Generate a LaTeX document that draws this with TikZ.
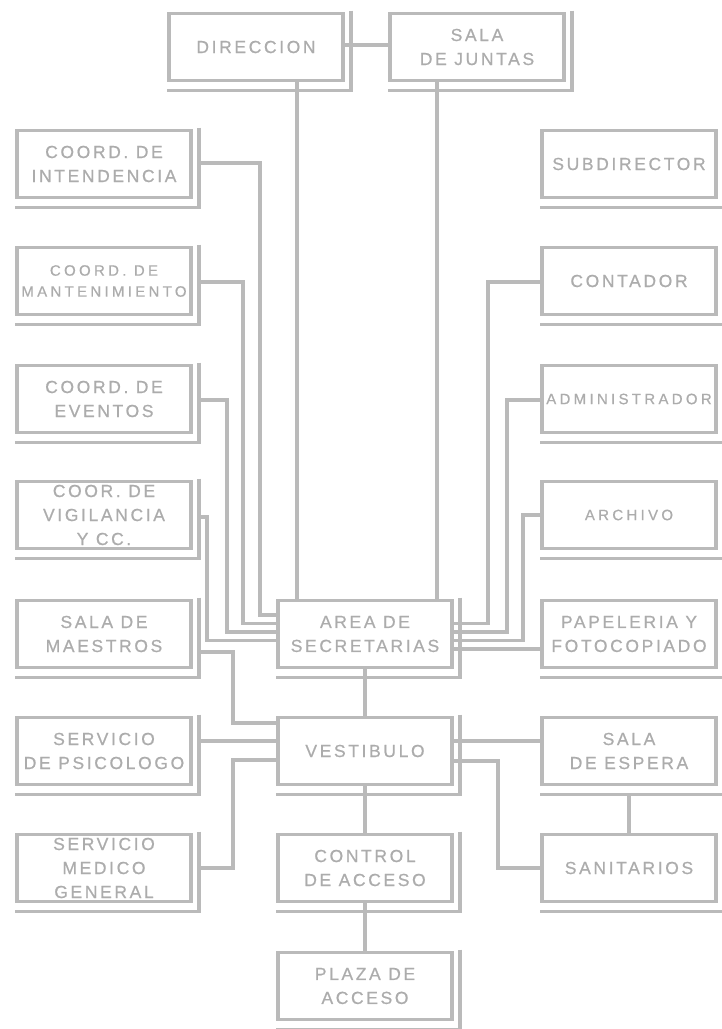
\documentclass[tikz,border=0pt]{standalone}
\usepackage{fontspec}
\newfontfamily\bxfont[LetterSpace=15,FakeBold=0.7]{Liberation Sans}
\newfontfamily\bxsmall[LetterSpace=22,FakeBold=0.7]{Liberation Sans}
\usetikzlibrary{calc}
\definecolor{lg}{RGB}{186,186,186}
\definecolor{tg}{RGB}{172,172,172}
\tikzset{
  room/.style={draw=lg, line width=3.5pt, minimum width=174pt, minimum height=67pt,
    inner sep=0pt, outer sep=0pt, align=center, text=tg,
    font=\bxfont\fontsize{17.5}{24}\selectfont},
  smallroom/.style={room, font=\bxsmall\fontsize{15}{21}\selectfont},
  link/.style={draw=lg, line width=3.2pt},
  shadeline/.style={draw=lg, line width=3.2pt},
}
\newcommand\boxshadow[1]{%
  \draw[shadeline] ($(#1.north east)+(8,-3)$) -- ($(#1.south east)+(8,11.5)$);
  \draw[shadeline] ($(#1.south west)+(-2,10)$) -- ($(#1.south east)+(9.6,10)$);}
\begin{document}
\begin{tikzpicture}[x=1pt,y=-1pt]
\useasboundingbox (0,0) rectangle (721,1029);
% nodes
\node[room] (dir)   at (256,47)  {DIRECCION};
\node[room] (sala)  at (477,47)  {SALA\\DE JUNTAS};
\node[room] (int)   at (104,164) {COORD. DE\\INTENDENCIA};
\node[room] (sub)   at (629,164) {SUBDIRECTOR};
\node[smallroom] (man) at (104,281) {COORD. DE\\MANTENIMIENTO};
\node[room] (cont)  at (629,281) {CONTADOR};
\node[room] (eve)   at (104,399) {COORD. DE\\EVENTOS};
\node[smallroom] (adm) at (629,399) {ADMINISTRADOR};
\node[room] (vig)   at (104,515) {COOR. DE\\VIGILANCIA\\Y CC.};
\node[smallroom] (arch) at (629,515) {ARCHIVO};
\node[room] (mae)   at (104,634) {SALA DE\\MAESTROS};
\node[room] (area)  at (365,634) {AREA DE\\SECRETARIAS};
\node[room] (pap)   at (629,634) {PAPELERIA Y\\FOTOCOPIADO};
\node[room] (psi)   at (104,751) {SERVICIO\\DE PSICOLOGO};
\node[room] (vest)  at (365,751) {VESTIBULO};
\node[room] (esp)   at (629,751) {SALA\\DE ESPERA};
\node[room] (med)   at (104,868) {SERVICIO\\MEDICO\\GENERAL};
\node[room] (ctrl)  at (365,868) {CONTROL\\DE ACCESO};
\node[room] (sani)  at (629,868) {SANITARIOS};
\node[room] (plaza) at (365,986) {PLAZA DE\\ACCESO};
% shadows
\foreach \n in {dir,sala,int,sub,man,cont,eve,adm,vig,arch,mae,area,pap,psi,vest,esp,med,ctrl,sani,plaza}{\boxshadow{\n}}
% connectors
\draw[link] ($(dir.east)+(0,-2)$) -- ($(sala.west)+(0,-2)$);
\draw[link] (dir.south -| 297,0) -- (area.north -| 297,0);
\draw[link] (sala.south -| 437,0) -- (area.north -| 437,0);
\draw[link] ($(int.east)+(8,-1)$) -| (260,615) -- (area.west |- 260,615);
\draw[link] ($(man.east)+(8,1)$) -| (243,623.5) -- (area.west |- 243,623.5);
\draw[link] ($(eve.east)+(8,1)$) -| (227,632) -- (area.west |- 227,632);
\draw[link] ($(vig.east)+(8,2)$) -| (207,640.5) -- (area.west |- 207,640.5);
\draw[link] ($(cont.west)+(0,1)$) -| (488,623.5) -- (area.east |- 488,623.5);
\draw[link] ($(adm.west)+(0,1)$) -| (507,632) -- (area.east |- 507,632);
\draw[link] (arch.west) -| (523,640.5) -- (area.east |- 523,640.5);
\draw[link] ($(pap.west)+(0,15)$) -- (area.east |- 0,649);
\draw[link] (area.south) -- (vest.north);
\draw[link] ($(mae.east)+(8,18)$) -| (233,723) -- (vest.west |- 233,723);
\draw[link] ($(psi.east)+(8,-10)$) -- (vest.west |- 0,741);
\draw[link] ($(med.east)+(8,0)$) -| (233,760) -- (vest.west |- 233,760);
\draw[link] ($(vest.east)+(0,-10)$) -- (esp.west |- 0,741);
\draw[link] ($(vest.east)+(0,10)$) -| (498,868) -- (sani.west);
\draw[link] ($(esp.south)+(0,10)$) -- (sani.north);
\draw[link] (vest.south) -- (ctrl.north);
\draw[link] (ctrl.south) -- (plaza.north);
\end{tikzpicture}
\end{document}
